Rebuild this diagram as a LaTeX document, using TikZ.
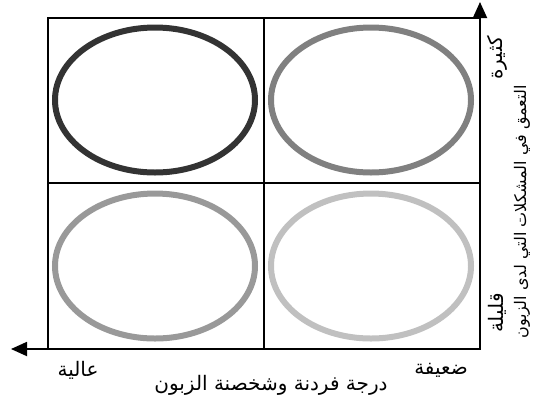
\documentclass[tikz,border=0pt]{standalone}
\usepackage{fontspec}
\usepackage{tikz}
\usetikzlibrary{shapes.geometric,arrows.meta}
\newfontfamily\arabicfont[Script=Arabic]{DejaVu Sans}
\TeXXeTstate=1
\definecolor{ringA}{HTML}{333333}
\definecolor{ringB}{HTML}{808080}
\definecolor{ringC}{HTML}{999999}
\definecolor{ringD}{HTML}{C0C0C0}

\begin{document}
\begin{tikzpicture}[
    x=1pt, y=-1pt,
    ring/.style={draw, ellipse, line width=6pt, minimum width=200pt, minimum height=145pt, inner sep=0pt},
    axis/.style={line width=1.8pt, -{Triangle[length=16pt,width=14pt]}},
    lbl/.style={font=\arabicfont\fontsize{20}{22}\selectfont, inner sep=0pt}
]
    \useasboundingbox (0,0) rectangle (534,400);

    % grid
    \draw[line width=1.2pt] (48,18) rectangle (480,349);
    \draw[line width=1.2pt] (264,18) -- (264,349);
    \draw[line width=1.2pt] (48,183) -- (480,183);

    % quadrants
    \node[ring, draw=ringA] (hiMany) at (155,100) {};
    \node[ring, draw=ringB] (loMany) at (371,100) {};
    \node[ring, draw=ringC] (hiFew) at (155,266) {};
    \node[ring, draw=ringD] (loFew) at (371,266) {};

    % axes
    \coordinate (orig) at (480,349);
    \coordinate (ytip) at (480,2);
    \coordinate (xtip) at (11,349);
    \draw[axis] (orig) -- (ytip);
    \draw[axis] (orig) -- (xtip);

    % labels
    \node[lbl] (xhigh) at (78,370) {\beginR عالية\endR};
    \node[lbl] (xlow) at (441,370) {\beginR ضعيفة\endR};
    \node[lbl] (xname) at (271,385) {\beginR درجة فردنة وشخصنة الزبون\endR};
    \node[lbl, rotate=90] (ymany) at (497,58) {\beginR كثيرة\endR};
    \node[lbl, rotate=90] (yfew) at (497,313) {\beginR قليلة\endR};
    \node[lbl, rotate=90, anchor=base, font=\arabicfont\fontsize{16}{18}\selectfont] (yname) at (526,212) {\beginR التعمق في المشكلات التي لدى الزبون\endR};
\end{tikzpicture}
\end{document}
